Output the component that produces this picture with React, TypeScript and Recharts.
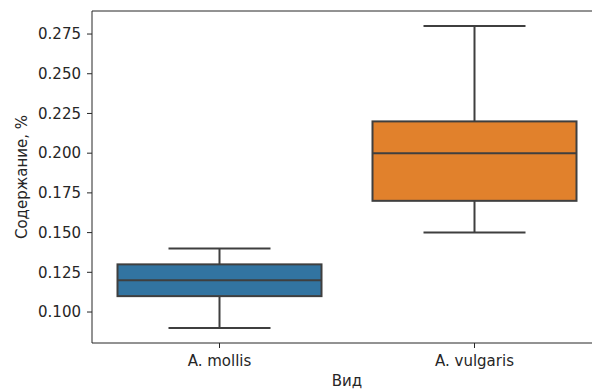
import { ComposedChart, Bar, XAxis, YAxis, ReferenceLine } from 'recharts'

// ─── Data ────────────────────────────────────────────────────────────────────

const species = ['A. mollis', 'A. vulgaris']
const whiskerLow = [0.09, 0.15]
const quartile1 = [0.11, 0.17]
const medians = [0.12, 0.2]
const quartile3 = [0.13, 0.22]
const whiskerHigh = [0.14, 0.28]
const boxColors = ['#3274A1', '#E1812C']
const yTicks = [0.1, 0.125, 0.15, 0.175, 0.2, 0.225, 0.25, 0.275]
const yDomain: [number, number] = [0.0805, 0.2895]

const data = species.map((name, i) => ({
  name,
  low: whiskerLow[i],
  q1: quartile1[i],
  median: medians[i],
  q3: quartile3[i],
  high: whiskerHigh[i],
  color: boxColors[i],
}))

// ─── Style ───────────────────────────────────────────────────────────────────

const FONT = '"DejaVu Sans", sans-serif'
const TEXT = '#262626'
const EDGE = '#3f3f3f'
const FS = 15

// ─── Box shape (range bar low..high, inner values mapped on the same scale) ──

const BoxShape = (props: any) => {
  const { x, y, width, height, payload } = props
  const top = Math.min(y, y + height)
  const h = Math.abs(height)
  const toY = (v: number) => top + (h * (payload.high - v)) / (payload.high - payload.low)
  const cx = x + width / 2
  const capHalf = width / 4
  const yq3 = toY(payload.q3)
  const yq1 = toY(payload.q1)
  const ymed = toY(payload.median)
  return (
    <g>
      <line x1={cx} x2={cx} y1={top} y2={yq3} stroke={EDGE} strokeWidth={2} />
      <line x1={cx} x2={cx} y1={yq1} y2={top + h} stroke={EDGE} strokeWidth={2} />
      <line x1={cx - capHalf} x2={cx + capHalf} y1={top} y2={top} stroke={EDGE} strokeWidth={2} />
      <line x1={cx - capHalf} x2={cx + capHalf} y1={top + h} y2={top + h} stroke={EDGE} strokeWidth={2} />
      <rect x={x} y={yq3} width={width} height={yq1 - yq3} fill={payload.color} stroke={EDGE} strokeWidth={2} />
      <line x1={x} x2={x + width} y1={ymed} y2={ymed} stroke={EDGE} strokeWidth={2} />
    </g>
  )
}

const YLabel = ({ viewBox }: any) => {
  const cx = viewBox.x + 22
  const cy = viewBox.y + viewBox.height / 2
  return (
    <text
      x={cx}
      y={cy}
      transform={`rotate(-90, ${cx}, ${cy})`}
      textAnchor="middle"
      dominantBaseline="central"
      fill={TEXT}
      fontSize={FS}
      fontFamily={FONT}
    >
      Содержание, %
    </text>
  )
}

const XLabel = ({ viewBox }: any) => (
  <text
    x={viewBox.x + viewBox.width / 2}
    y={381}
    textAnchor="middle"
    dominantBaseline="central"
    fill={TEXT}
    fontSize={FS}
    fontFamily={FONT}
  >
    Вид
  </text>
)

// ─── Component ───────────────────────────────────────────────────────────────

export default function App() {
  return (
    <div style={{ position: 'absolute', left: 0, top: 0, width: 592, height: 390, overflow: 'hidden', background: '#fff' }}>
      <ComposedChart
        width={604}
        height={390}
        data={data}
        margin={{ top: 11, right: 2, bottom: 7, left: 0 }}
        barCategoryGap="10%"
      >
        <XAxis
          dataKey="name"
          type="category"
          height={40}
          tick={{ fill: TEXT, fontSize: FS, fontFamily: FONT }}
          tickLine={{ stroke: TEXT }}
          tickSize={5}
          tickMargin={7}
          axisLine={{ stroke: TEXT }}
          label={{ content: XLabel }}
        />
        <YAxis
          type="number"
          domain={yDomain}
          ticks={yTicks}
          allowDataOverflow
          width={92}
          tickFormatter={(v: number) => v.toFixed(3)}
          tick={{ fill: TEXT, fontSize: FS, fontFamily: FONT }}
          tickLine={{ stroke: TEXT }}
          tickSize={5}
          tickMargin={6}
          axisLine={{ stroke: TEXT }}
          label={{ content: YLabel }}
        />
        <ReferenceLine y={yDomain[1]} stroke={TEXT} />
        <Bar
          dataKey={(d: any) => [d.low, d.high]}
          shape={BoxShape}
          isAnimationActive={false}
        />
      </ComposedChart>
    </div>
  )
}
